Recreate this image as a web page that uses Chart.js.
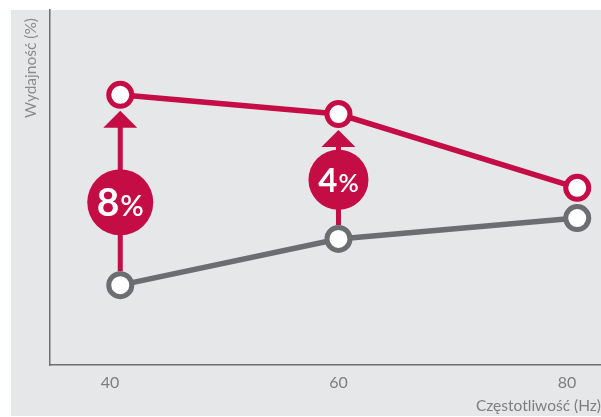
<!DOCTYPE html>
<html><head><meta charset="utf-8">
<script src="https://cdn.jsdelivr.net/npm/chart.js@4"></script>
<style>html,body{margin:0;padding:0;background:#fff}#wrap{width:601px;height:417px}</style>
</head>
<body><div id="wrap"><canvas id="c" width="601" height="417"></canvas></div>
<script>
// Data
const frequencies = [40.9, 60, 80.9];      // Hz (x positions of points)
const redSeries = [76.1, 70.7, 49.9];       // efficiency, upper line
const graySeries = [22.5, 35.5, 41.4];      // efficiency, lower line
const tickValues = [40, 60, 80];            // x tick labels
const gainLabels = ['8%', '4%'];            // badges at the first two frequencies
const yTitle = 'Wydajność (%)';
const xTitle = 'Częstotliwość (Hz)';

const RED = '#C40C45';
const GRAY = '#6C6D70';
const BG = '#E6E7E9';
const FONT = 'Lato, "Open Sans", sans-serif';

const bgPlugin = {
  id: 'bg',
  beforeDraw(chart) {
    const ctx = chart.ctx;
    ctx.save();
    ctx.fillStyle = BG;
    ctx.fillRect(11, 10, chart.width - 11, chart.height - 11);
    ctx.restore();
  },
  afterDraw(chart) {
    const ctx = chart.ctx;
    ctx.save();
    ctx.translate(31, 18);
    ctx.rotate(-Math.PI / 2);
    ctx.font = '15.5px ' + FONT;
    ctx.fillStyle = '#8a8b8d';
    ctx.textAlign = 'right';
    ctx.textBaseline = 'middle';
    ctx.fillText(yTitle, 0, 0);
    ctx.restore();
  }
};

const badgeStyle = { radius: [33, 30], digit: [39, 33], pct: [29, 25], t: [0.52, 0.42] };

const gainPlugin = {
  id: 'gains',
  afterDatasetsDraw(chart) {
    const ctx = chart.ctx;
    const xs = chart.scales.x, ys = chart.scales.y;
    gainLabels.forEach((lab, i) => {
      const px = xs.getPixelForValue(frequencies[i]);
      const rY = ys.getPixelForValue(redSeries[i]);
      const gY = ys.getPixelForValue(graySeries[i]);
      const tip = rY + 16, base = tip + 17, end = gY - 14;
      ctx.save();
      ctx.fillStyle = RED; ctx.strokeStyle = RED;
      ctx.lineWidth = 5;
      ctx.beginPath(); ctx.moveTo(px, base - 1); ctx.lineTo(px, end); ctx.stroke();
      ctx.beginPath(); ctx.moveTo(px, tip); ctx.lineTo(px - 17, base); ctx.lineTo(px + 17, base); ctx.closePath(); ctx.fill();
      const cy = base + badgeStyle.t[i] * (end - base);
      const r = badgeStyle.radius[i];
      ctx.beginPath(); ctx.arc(px, cy, r, 0, Math.PI * 2); ctx.fill();
      const num = lab.replace('%', '');
      ctx.fillStyle = '#fff';
      ctx.textBaseline = 'alphabetic';
      ctx.font = 'bold ' + badgeStyle.digit[i] + 'px ' + FONT;
      const w1 = ctx.measureText(num).width;
      ctx.font = '600 ' + badgeStyle.pct[i] + 'px ' + FONT;
      const w2 = ctx.measureText('%').width;
      const x0 = px - (w1 + w2 + 1) / 2;
      const baseline = cy + badgeStyle.digit[i] * 0.36;
      ctx.font = 'bold ' + badgeStyle.digit[i] + 'px ' + FONT;
      ctx.fillText(num, x0, baseline);
      ctx.font = '600 ' + badgeStyle.pct[i] + 'px ' + FONT;
      ctx.fillText('%', x0 + w1 + 1, baseline);
      ctx.restore();
    });
  }
};

const pts = arr => arr.map((v, i) => ({ x: frequencies[i], y: v }));

new Chart(document.getElementById('c'), {
  type: 'line',
  data: {
    datasets: [
      { label: 'gray', data: pts(graySeries), borderColor: GRAY, borderWidth: 5.5,
        pointRadius: 11.5, pointHoverRadius: 11.5, pointBorderWidth: 5, pointBorderColor: GRAY,
        pointBackgroundColor: '#fff', tension: 0, clip: false },
      { label: 'red', data: pts(redSeries), borderColor: RED, borderWidth: 5.5,
        pointRadius: 11.5, pointHoverRadius: 11.5, pointBorderWidth: 5, pointBorderColor: RED,
        pointBackgroundColor: '#fff', tension: 0, clip: false }
    ]
  },
  options: {
    responsive: false, animation: false, devicePixelRatio: 1,
    layout: { autoPadding: false, padding: { top: 10, left: 0, right: 0, bottom: 0 } },
    plugins: { legend: { display: false }, tooltip: { enabled: false } },
    scales: {
      x: {
        type: 'linear', min: 34.75, max: 82.98,
        afterBuildTicks: s => { s.ticks = tickValues.map(v => ({ value: v })); },
        afterFit: s => { s.height = 52; s.paddingLeft = 0; s.paddingRight = 0; s.paddingTop = 0; s.paddingBottom = 0; },
        grid: { display: false, drawTicks: false },
        border: { display: true, color: '#6e6f71', width: 1.5 },
        ticks: { color: '#7d7e80', font: { family: FONT, size: 16 }, padding: 8, maxRotation: 0, autoSkip: false },
        title: { display: true, text: xTitle, align: 'end', color: '#7d7e80', font: { family: FONT, size: 15.5 }, padding: { top: 0, bottom: 2 } }
      },
      y: {
        min: 0, max: 100,
        afterFit: s => { s.width = 50; s.paddingLeft = 0; s.paddingRight = 0; s.paddingTop = 0; s.paddingBottom = 0; },
        grid: { display: false, drawTicks: false },
        border: { display: true, color: '#6e6f71', width: 1.5 },
        ticks: { display: false }
      }
    }
  },
  plugins: [bgPlugin, gainPlugin]
});
</script>
</body></html>
